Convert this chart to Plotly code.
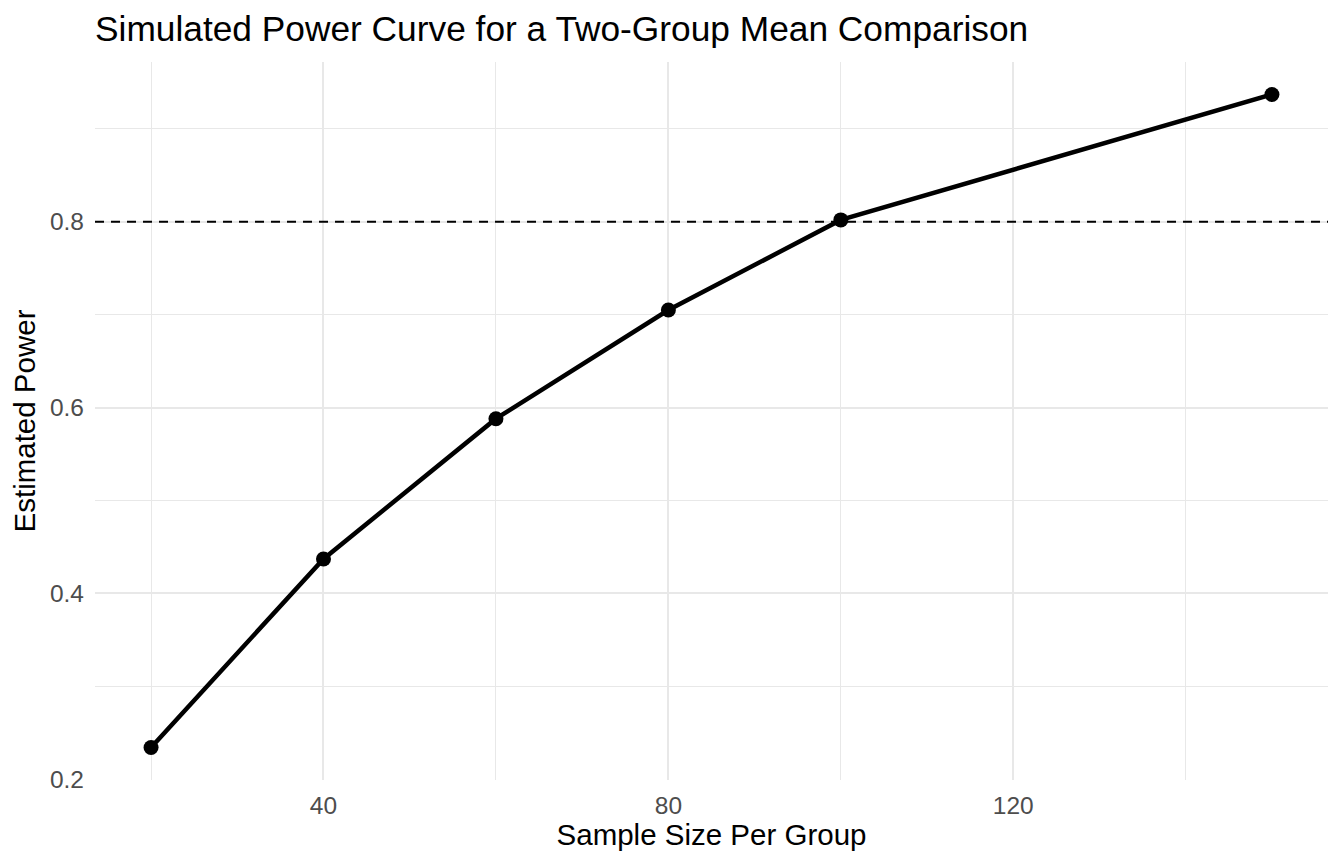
import plotly.graph_objects as go

# power simulation results
sample_size = [20, 40, 60, 80, 100, 150]
power = [0.234, 0.437, 0.588, 0.705, 0.802, 0.937]
target_power = 0.8

x_ticks = [40, 80, 120]
x_minor = [20, 60, 100, 140]
y_ticks = [0.2, 0.4, 0.6, 0.8]
y_minor = [0.3, 0.5, 0.7, 0.9]

fig = go.Figure()
fig.add_trace(go.Scatter(x=sample_size, y=power, mode="lines+markers",
                         line={"color": "black", "width": 4.5},
                         marker={"color": "black", "size": 15},
                         showlegend=False))
fig.add_hline(y=target_power, line={"color": "black", "width": 2.2, "dash": "9px,7px"})

grid = "#e8e8e8"
W, H = 1328, 848  # page body adds 8px around the figure
fig.update_layout(
    width=W, height=H,
    paper_bgcolor="white", plot_bgcolor="white",
    margin={"l": 87, "r": 8, "t": 54, "b": 76},
    font={"family": "Liberation Sans, Arial, sans-serif", "color": "black"},
    title={"text": "Simulated Power Curve for a Two-Group Mean Comparison",
           "x": 87 / W, "xanchor": "left", "y": 1 - 21 / H, "yanchor": "middle",
           "font": {"size": 35.3}},
    xaxis={"title": {"text": "Sample Size Per Group", "font": {"size": 29.5}, "standoff": 3},
           "range": [13.5, 156.5], "tickvals": x_ticks, "ticks": "",
           "ticklabelstandoff": 8,
           "tickfont": {"size": 24.5, "color": "#4d4d4d"},
           "showgrid": True, "gridcolor": grid, "gridwidth": 2.2, "zeroline": False,
           "minor": {"tickvals": x_minor, "showgrid": True,
                     "gridcolor": grid, "gridwidth": 1.3}},
    yaxis={"title": {"text": "Estimated Power", "font": {"size": 29.5}, "standoff": 12},
           "range": [0.199, 0.972], "tickvals": y_ticks, "ticktext": ["0.2", "0.4", "0.6", "0.8"],
           "ticks": "", "ticklabelstandoff": 10,
           "tickfont": {"size": 24.5, "color": "#4d4d4d"},
           "showgrid": True, "gridcolor": grid, "gridwidth": 2.2, "zeroline": False,
           "minor": {"tickvals": y_minor, "showgrid": True,
                     "gridcolor": grid, "gridwidth": 1.3}},
)

fig.write_html("out.html")
